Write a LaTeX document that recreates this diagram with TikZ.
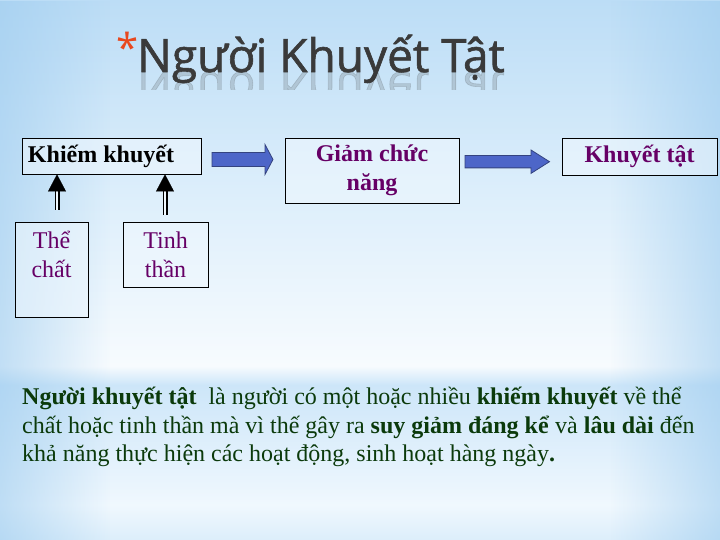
\documentclass[tikz,border=0pt]{standalone}
\usepackage{fontspec}
\setmainfont{Liberation Serif}
\newfontfamily\titlefont{Open Sans}[FakeBold=1.3]
\newfontfamily\starfont{Open Sans}
\usetikzlibrary{arrows.meta,calc,fadings}
\definecolor{bgA}{HTML}{BCDDF6}
\definecolor{bgB}{HTML}{DCEEFB}
\definecolor{bgC}{HTML}{F7FBFE}
\definecolor{bgD}{HTML}{CDE6F9}
\definecolor{bgE}{HTML}{F0F8FE}
\definecolor{bgEdge}{HTML}{9ECCEF}
\definecolor{ttl}{HTML}{3A3A3A}
\definecolor{star}{HTML}{E8481E}
\definecolor{purp}{HTML}{660066}
\definecolor{dgreen}{HTML}{0B3A0B}
\definecolor{arrfill}{HTML}{4D66C8}
\definecolor{arrdraw}{HTML}{34437F}
\definecolor{boxfill}{HTML}{F0F8FE}
\tikzfading[name=fadeR, left color=transparent!0, right color=transparent!100]
\tikzfading[name=fadeL, left color=transparent!100, right color=transparent!0]
\begin{document}
\begin{tikzpicture}[x=1pt,y=-1pt,
  box/.style={draw=black, line width=0.9pt, fill=boxfill, fill opacity=0.55, text opacity=1, inner sep=0pt, align=center},
  bboxtxt/.style={font=\fontsize{24}{29}\selectfont\bfseries},
  rboxtxt/.style={font=\fontsize{24}{29}\selectfont, text=purp},
  blockarrow/.style={fill=arrfill, draw=arrdraw, line width=0.8pt, line join=miter},
  dshaft/.style={draw=black, double=boxfill, double distance=1.4pt, line width=1.8pt},
  uphead/.style={-{Triangle[length=17pt,width=18pt]}, line width=0.1pt, draw=black, fill=black}
]
\useasboundingbox (0,0) rectangle (720,540);
% background
\shade[top color=bgA, bottom color=bgB] (0,0) rectangle (720,190);
\shade[top color=bgB, bottom color=bgC] (0,190) rectangle (720,366);
\shade[top color=bgC, bottom color=bgD] (0,366) rectangle (720,385);
\shade[top color=bgD, bottom color=bgE] (0,385) rectangle (720,505);
\shade[top color=bgE, bottom color=bgB] (0,505) rectangle (720,540);
\fill[bgEdge, path fading=fadeR, opacity=0.6] (0,0) rectangle (110,540);
\fill[bgEdge, path fading=fadeL, opacity=0.6] (610,0) rectangle (720,540);
% title
\node[anchor=base west, text=star, font=\starfont\fontsize{40}{40}\selectfont, inner sep=0pt] (star) at (116,63) {*};
\node[anchor=base west, text=ttl, font=\titlefont\fontsize{46}{46}\selectfont, inner sep=0pt] (title) at (137,72) {Người Khuyết Tật};
\begin{scope}
  \clip (130,72) rectangle (520,90);
  \node[anchor=base west, text=ttl, opacity=0.18, yscale=-1, font=\titlefont\fontsize{46}{46}\selectfont, inner sep=0pt] (titlerefl) at (137,72) {Người Khuyết Tật};
\end{scope}
% boxes
\node[box, bboxtxt, minimum width=179pt, minimum height=36pt] (kk) at (111.5,156) {\hspace*{-21pt}Khiếm khuyết};
\node[box, bboxtxt, text=purp, minimum width=174pt, minimum height=65pt] (gcn) at (372,170.5) {Giảm chức\\năng};
\node[box, bboxtxt, text=purp, minimum width=155pt, minimum height=37pt] (kt) at (639.5,156.5) {Khuyết tật};
\node[box, rboxtxt, minimum width=73pt, minimum height=95pt] (tc) at (51.5,269.5) {Thể\\chất\\[2pt]~};
\node[box, rboxtxt, minimum width=85pt, minimum height=65pt] (tt) at (165.5,254.5) {Tinh\\thần};
% block arrows
\coordinate (b1) at (212,159.5);
\draw[blockarrow] (b1) ++(0,-7) -- ++(53,0) -- ++(0,-8) -- ++(8,15) -- ++(-8,15) -- ++(0,-8) -- ++(-53,0) -- cycle;
\coordinate (b2) at (465,161.7);
\draw[blockarrow] (b2) ++(0,-6.2) -- ++(66,0) -- ++(0,-5.5) -- ++(18.5,11.7) -- ++(-18.5,11.7) -- ++(0,-5.5) -- ++(-66,0) -- cycle;
% up arrows
\coordinate (u1) at (57,210);
\coordinate (u2) at (165,215);
\draw[dshaft] (u1) -- ([yshift=-17pt]u1 |- kk.south);
\draw[uphead] ([yshift=-16pt]u1 |- kk.south) -- (u1 |- kk.south);
\draw[dshaft] (u2) -- ([yshift=-17pt]u2 |- kk.south);
\draw[uphead] ([yshift=-16pt]u2 |- kk.south) -- (u2 |- kk.south);
% paragraph
\node[anchor=north west, inner sep=0pt, align=left, text=dgreen, font=\fontsize{24}{28.6}\selectfont] (para) at (22,387)
{\textbf{Người khuyết tật}\ \ là người có một hoặc nhiều \textbf{khiếm khuyết} về thể\\
chất hoặc tinh thần mà vì thế gây ra \textbf{suy giảm đáng kể} và \textbf{lâu dài} đến\\
khả năng thực hiện các hoạt động, sinh hoạt hàng ngày\textbf{.}};
\end{tikzpicture}
\end{document}
